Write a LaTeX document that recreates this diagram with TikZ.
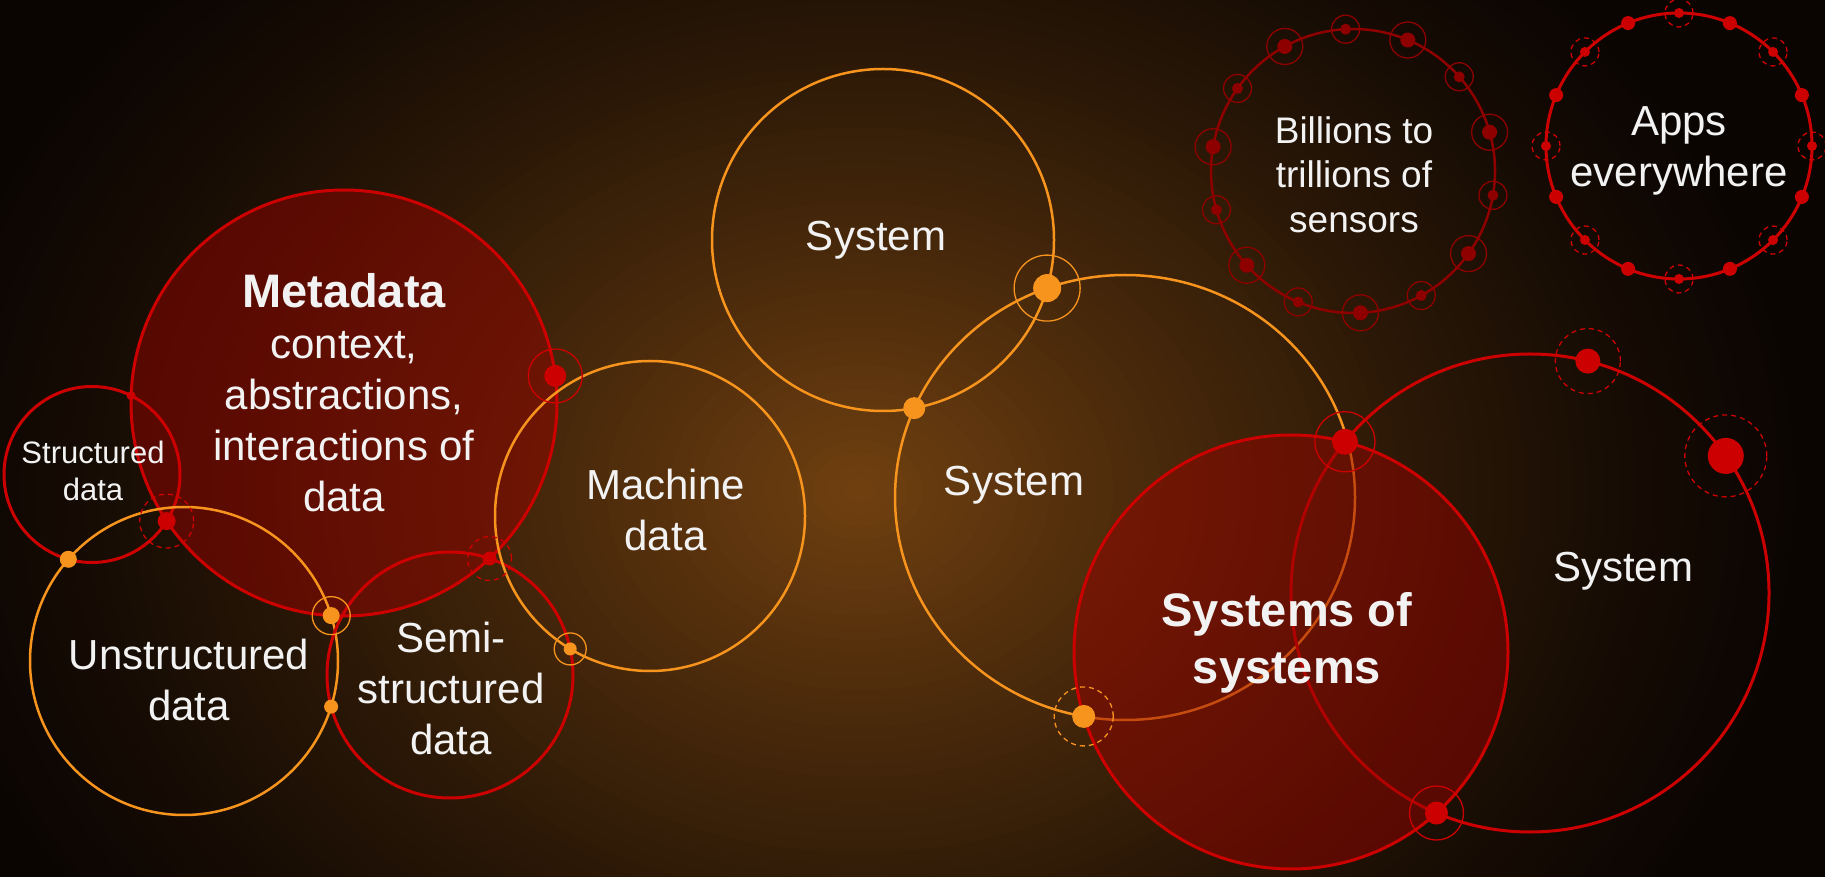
\documentclass[tikz,border=0pt]{standalone}
\usepackage{fontspec}
\setmainfont{Liberation Sans}
\usetikzlibrary{calc}
\usetikzlibrary{intersections}

\definecolor{sysorange}{HTML}{F7941D}
\definecolor{sysred}{HTML}{CC0000}
\definecolor{sensorred}{HTML}{8E0000}
\definecolor{blobred}{HTML}{960400}
\definecolor{labelwhite}{HTML}{F2F2F2}
\definecolor{bgA}{HTML}{704010}
\definecolor{bgE}{HTML}{0B0502}

\tikzset{
	rim/.style={line width=3pt},
	thinrim/.style={line width=2.5pt},
	halo/.style={line width=1.3pt},
	halodash/.style={line width=1.3pt, dash pattern=on 5pt off 4pt},
	blob/.style={fill=blobred, fill opacity=0.5, draw=sysred, line width=3pt},
	lbl/.style={text=labelwhite, align=center, inner sep=0pt, font=\fontsize{42}{51}\selectfont}
}

\begin{document}
\begin{tikzpicture}[x=1pt, y=1pt]
	\useasboundingbox (0,0) rectangle (1825,876);
	\fill[bgE] (-20,-20) rectangle (1845,896);
	\coordinate (glow) at (860,386);
	\foreach \i in {1,...,60} {
		\pgfmathsetmacro{\f}{(61-\i)/60}
		\pgfmathsetmacro{\p}{100*((\i-0.5)/60)^1.3}
		\fill[bgA!\p!bgE] (glow) ellipse[x radius=950*\f, y radius=750*\f];
	}

	\coordinate (meta) at (344,473);
	\coordinate (struct) at (92,401.5);
	\coordinate (unstr) at (184,215);
	\coordinate (semi) at (450,201);
	\coordinate (mach) at (650,360);
	\coordinate (sysA) at (883,636);
	\coordinate (sysB) at (1125,378.5);
	\coordinate (sysC) at (1530,283);
	\coordinate (sos) at (1291,224);
	\coordinate (bil) at (1353,705);
	\coordinate (apps) at (1679,730);

	\draw[blob, name path=meta] (meta) circle[radius=213];
	\draw[rim, sysred, name path=struct] (struct) circle[radius=88];
	\draw[thinrim, sysorange, name path=unstr] (unstr) circle[radius=154];
	\draw[rim, sysred, name path=semi] (semi) circle[radius=123];
	\draw[thinrim, sysorange, name path=mach] (mach) circle[radius=155];
	\draw[thinrim, sysorange, name path=sysA] (sysA) circle[radius=171];
	\draw[thinrim, sysorange, name path=sysB] (sysB) ellipse[x radius=230, y radius=222.5];
	\draw[rim, sysred, name path=sysC] (sysC) circle[radius=239];
	\draw[blob, name path=sos] (sos) circle[radius=217];
	\draw[thinrim, sensorred] (bil) circle[radius=142];
	\draw[rim, sysred] (apps) circle[radius=133];

	\path[name intersections={of=struct and meta, sort by=struct, by={d1,d2}}];
	\path[name intersections={of=unstr and struct, sort by=unstr, by={d3a,d3}}];
	\path[name intersections={of=meta and semi, sort by=meta, by={d5a,d5}}];
	\path[name intersections={of=unstr and meta, sort by=unstr, by={d6,d6a}}];
	\path[name intersections={of=unstr and semi, sort by=unstr, by={d7a,d7}}];
	\path[name intersections={of=semi and mach, sort by=semi, by={d8,d8a}}];
	\path[name intersections={of=sysA and sysB, sort by=sysA, by={e2,e1}}];
	\path[name intersections={of=sysB and sos, sort by=sysB, by={e3a,e3}}];
	\path[name intersections={of=sysC and sos, sort by=sysC, by={e4,e7}}];
	\coordinate (d4) at ($(meta)+(7.3:213)$);
	\coordinate (e5) at ($(sysC)+(76:239)$);
	\coordinate (e6) at ($(sysC)+(35:239)$);

	\fill[sysred] (d1) circle[radius=4.5];
	\fill[sysred] (d2) circle[radius=9];
	\draw[halodash, sysred] (d2) circle[radius=27];
	\fill[sysorange] (d3) circle[radius=8.5];
	\fill[sysred] (d4) circle[radius=11];
	\draw[halo, sysred] (d4) circle[radius=27];
	\fill[sysred] (d5) circle[radius=7];
	\draw[halodash, sysred] (d5) circle[radius=22];
	\fill[sysorange] (d6) circle[radius=8.5];
	\draw[halo, sysorange] (d6) circle[radius=19];
	\fill[sysorange] (d7) circle[radius=7];
	\fill[sysorange] (d8) circle[radius=6.5];
	\draw[halo, sysorange] (d8) circle[radius=16];

	\fill[sysorange] (e1) circle[radius=14];
	\draw[halo, sysorange] (e1) circle[radius=33];
	\fill[sysorange] (e2) circle[radius=11];
	\fill[sysorange] (e3) circle[radius=11.5];
	\draw[halodash, sysorange] (e3) circle[radius=29.5];
	\fill[sysred] (e4) circle[radius=13];
	\draw[halo, sysred] (e4) circle[radius=30];
	\fill[sysred] (e5) circle[radius=12.5];
	\draw[halodash, sysred] (e5) circle[radius=32.5];
	\fill[sysred] (e6) circle[radius=18];
	\draw[halodash, sysred] (e6) circle[radius=41];
	\fill[sysred] (e7) circle[radius=11.5];
	\draw[halo, sysred] (e7) circle[radius=27];

	\begin{scope}[sensorred]
		\foreach \i in {0,...,6} {
			\fill ($(bil)+(273+\i*51.43:142)$) circle[radius=7.5];
			\draw[halo] ($(bil)+(273+\i*51.43:142)$) circle[radius=18];
			\fill ($(bil)+(298.71+\i*51.43:142)$) circle[radius=5.5];
			\draw[halo] ($(bil)+(298.71+\i*51.43:142)$) circle[radius=14];
		}
	\end{scope}
	\begin{scope}[sysred]
		\foreach \a in {0,45,...,315} {
			\fill ($(apps)+(\a:133)$) circle[radius=5];
			\draw[halodash] ($(apps)+(\a:133)$) circle[radius=14];
		}
		\foreach \a in {22.5,67.5,...,337.5}
			\fill ($(apps)+(\a:133)$) circle[radius=7];
	\end{scope}

	\node[lbl, font=\fontsize{31}{37}\selectfont] (structText) at (93,405.5) {Structured\\data};
	\node[lbl] (metaText) at (344,483) {{\fontsize{47}{51}\selectfont\bfseries Metadata}\\context,\\abstractions,\\interactions of\\data};
	\node[lbl] (unstrText) at (189,196.5) {Unstructured\\data};
	\node[lbl] (semiText) at (451,187.6) {Semi-\\structured\\data};
	\node[lbl] (machText) at (665.5,366) {Machine\\data};
	\node[lbl, anchor=base] (sysAText) at (876,625) {System};
	\node[lbl, anchor=base] (sysBText) at (1014,380) {System};
	\node[lbl, anchor=base] (sysCText) at (1623,294.4) {System};
	\node[lbl, font=\fontsize{47}{57}\selectfont\bfseries] (sosText) at (1287,233.4) {Systems of\\systems};
	\node[lbl, font=\fontsize{37}{44.5}\selectfont] (bilText) at (1354,701.5) {Billions to\\trillions of\\sensors};
	\node[lbl] (appsText) at (1679,725) {Apps\\everywhere};
\end{tikzpicture}
\end{document}
